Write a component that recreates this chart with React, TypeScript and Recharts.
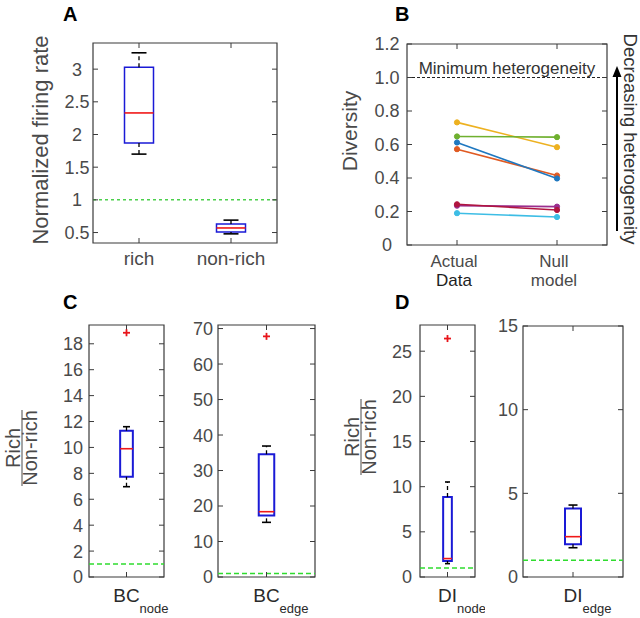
import React from 'react';
import {
  ComposedChart,
  LineChart,
  Line,
  XAxis,
  YAxis,
  ReferenceLine,
  ReferenceArea,
  Scatter,
} from 'recharts';

const FONT = '"Liberation Sans", Arial, Helvetica, sans-serif';
const TICK_COLOR = '#4a4a4a';
const AXIS_COLOR = '#3a3a3a';

// ---------- Panel A ----------
const aCategories = ['rich', 'non-rich'];
// [lower whisker, q1, median, q3, upper whisker]
const aRichBox = [1.7, 1.87, 2.33, 3.03, 3.25];
const aNonRichBox = [0.48, 0.51, 0.57, 0.63, 0.69];
const aTicks = [0.5, 1, 1.5, 2, 2.5, 3];

// ---------- Panel B ----------
const bCategories = ['Actual|Data', 'Null|model'];
const bTicks = [0, 0.2, 0.4, 0.6, 0.8, 1.0, 1.2];
const bYellow = [0.732, 0.584];
const bGreen = [0.648, 0.644];
const bBlue = [0.612, 0.397];
const bOrange = [0.572, 0.415];
const bPurple = [0.235, 0.229];
const bCrimson = [0.243, 0.209];
const bCyan = [0.19, 0.167];

// ---------- Panel C ----------
const cNodeCategories = ['BC|node'];
const cNodeBox = [6.97, 7.74, 9.9, 11.29, 11.6];
const cNodeOutliers = [18.85];
const cNodeTicks = [0, 2, 4, 6, 8, 10, 12, 14, 16, 18];
const cEdgeCategories = ['BC|edge'];
const cEdgeBox = [15.4, 17.3, 18.4, 34.6, 36.9];
const cEdgeOutliers = [67.8];
const cEdgeTicks = [0, 10, 20, 30, 40, 50, 60, 70];

// ---------- Panel D ----------
const dNodeCategories = ['DI|node'];
const dNodeBox = [1.48, 1.77, 2.04, 8.86, 10.52];
const dNodeOutliers = [26.4];
const dNodeTicks = [0, 5, 10, 15, 20, 25];
const dEdgeCategories = ['DI|edge'];
const dEdgeBox = [1.75, 1.95, 2.41, 4.1, 4.3];
const dEdgeOutliers: number[] = [];
const dEdgeTicks = [0, 5, 10, 15];

const unityLevel = 1;

const EmptyTick = () => <g />;

const makeYTick =
  (mode: 'right' | 'center', gap: number, fontSize: number, fmt: (v: number) => string) =>
  (props: any) => {
    const { x, y, payload } = props;
    return (
      <text
        x={x - gap}
        y={y}
        dy={fontSize * 0.36}
        textAnchor={mode === 'center' ? 'middle' : 'end'}
        fill={TICK_COLOR}
        fontSize={fontSize}
        fontFamily={FONT}
      >
        {fmt(payload.value)}
      </text>
    );
  };

const makeSimpleXTick = (cats: string[], fontSize: number, dy: number) => (props: any) => {
  const { x, y, payload } = props;
  const label = cats[Math.round(payload.value) - 1] ?? '';
  return (
    <text x={x} y={y + dy} textAnchor="middle" fill={TICK_COLOR} fontSize={fontSize} fontFamily={FONT}>
      {label}
    </text>
  );
};

const makeSubXTick = (cats: string[], mainHalf: number) => (props: any) => {
  const { x, y, payload } = props;
  const [main, sub] = (cats[Math.round(payload.value) - 1] ?? '|').split('|');
  return (
    <g>
      <text x={x} y={y + 25} textAnchor="middle" fill="#2a2a2a" fontSize={19} fontFamily={FONT}>
        {main}
      </text>
      <text x={x + mainHalf} y={y + 36} textAnchor="start" fill="#2a2a2a" fontSize={13} fontFamily={FONT}>
        {sub}
      </text>
    </g>
  );
};

const PlusShape = (props: any) => {
  const { cx, cy } = props;
  if (cx == null || cy == null) return <g />;
  return (
    <g>
      <line x1={cx - 3.5} x2={cx + 3.5} y1={cy} y2={cy} stroke="#e8151b" strokeWidth={1.8} />
      <line x1={cx} x2={cx} y1={cy - 3.5} y2={cy + 3.5} stroke="#e8151b" strokeWidth={1.8} />
    </g>
  );
};

function frameAxes(n: number, domain: [number, number], yTicks: number[]) {
  const xTicks = Array.from({ length: n }, (_, i) => i + 1);
  return [
    <XAxis
      key="xt"
      xAxisId="top"
      orientation="top"
      dataKey="x"
      type="number"
      domain={[0.5, n + 0.5]}
      allowDataOverflow
      ticks={xTicks}
      height={1}
      tickSize={-5}
      tick={EmptyTick}
      axisLine={false}
      stroke={AXIS_COLOR}
      interval={0}
    />,
    <YAxis
      key="yr"
      yAxisId="right"
      orientation="right"
      type="number"
      domain={domain}
      allowDataOverflow
      ticks={yTicks}
      width={1}
      tickSize={-5}
      tick={EmptyTick}
      axisLine={false}
      stroke={AXIS_COLOR}
      interval={0}
    />,
    <ReferenceArea
      key="frame"
      x1={0.5}
      x2={n + 0.5}
      y1={domain[0]}
      y2={domain[1]}
      fill="none"
      fillOpacity={0}
      stroke={AXIS_COLOR}
      strokeWidth={1.2}
      ifOverflow="visible"
    />,
  ];
}

interface BoxPanelProps {
  left: number;
  top: number;
  w: number;
  h: number;
  domain: [number, number];
  ticks: number[];
  categories: string[];
  boxes: number[][];
  outliers: number[][];
  boxPx: number;
  capPx: number;
  boxStroke: number;
  yTick: (p: any) => any;
  xTick: (p: any) => any;
  refDash: string;
  refColor: string;
}

function BoxPanel(p: BoxPanelProps) {
  const LM = 80;
  const RM = 10;
  const TM = 10;
  const BM = 50;
  const n = p.categories.length;
  const unitsPerPx = n / p.w;
  const hw = (p.boxPx / 2) * unitsPerPx;
  const cw = (p.capPx / 2) * unitsPerPx;
  const xTicks = p.categories.map((_, i) => i + 1);
  const outlierData = p.outliers.flatMap((arr, i) => arr.map((v) => ({ x: i + 1, y: v })));

  const elems: any[] = [];
  p.boxes.forEach((b, i) => {
    const x = i + 1;
    const [lo, q1, med, q3, hi] = b;
    elems.push(
      <ReferenceLine key={`wu${i}`} segment={[{ x, y: q3 }, { x, y: hi }]} stroke="#000" strokeWidth={1.3} strokeDasharray="4 3" ifOverflow="visible" />,
      <ReferenceLine key={`wl${i}`} segment={[{ x, y: lo }, { x, y: q1 }]} stroke="#000" strokeWidth={1.3} strokeDasharray="4 3" ifOverflow="visible" />,
      <ReferenceLine key={`cu${i}`} segment={[{ x: x - cw, y: hi }, { x: x + cw, y: hi }]} stroke="#000" strokeWidth={1.6} ifOverflow="visible" />,
      <ReferenceLine key={`cl${i}`} segment={[{ x: x - cw, y: lo }, { x: x + cw, y: lo }]} stroke="#000" strokeWidth={1.6} ifOverflow="visible" />,
      <ReferenceArea key={`bx${i}`} x1={x - hw} x2={x + hw} y1={q1} y2={q3} fill="#ffffff" fillOpacity={0} stroke="#1a1ad6" strokeWidth={p.boxStroke} ifOverflow="visible" />,
      <ReferenceLine key={`md${i}`} segment={[{ x: x - hw, y: med }, { x: x + hw, y: med }]} stroke="#f01818" strokeWidth={1.6} ifOverflow="visible" />
    );
  });

  return (
    <div style={{ position: 'absolute', left: p.left - LM, top: p.top - TM }}>
      <ComposedChart
        width={p.w + LM + RM}
        height={p.h + TM + BM}
        margin={{ top: TM - 1, right: RM - 1, bottom: 0, left: 0 }}
      >
        <XAxis
          xAxisId={0}
          dataKey="x"
          type="number"
          domain={[0.5, n + 0.5]}
          allowDataOverflow
          ticks={xTicks}
          height={BM}
          tickSize={-5}
          tickMargin={5}
          tick={p.xTick}
          axisLine={false}
          stroke={AXIS_COLOR}
          interval={0}
        />
        <YAxis
          yAxisId={0}
          type="number"
          domain={p.domain}
          allowDataOverflow
          ticks={p.ticks}
          width={LM}
          tickSize={-5}
          tickMargin={5}
          tick={p.yTick}
          axisLine={false}
          stroke={AXIS_COLOR}
          interval={0}
        />
        {frameAxes(n, p.domain, p.ticks)}
        <ReferenceLine y={unityLevel} stroke={p.refColor} strokeWidth={1.5} strokeDasharray={p.refDash} ifOverflow="visible" />
        {elems}
        <Scatter data={outlierData} dataKey="y" shape={PlusShape} isAnimationActive={false} />
      </ComposedChart>
    </div>
  );
}

const bSeries = [
  { key: 'yellow', color: '#EDB120', values: bYellow },
  { key: 'green', color: '#6FB02F', values: bGreen },
  { key: 'orange', color: '#E05A22', values: bOrange },
  { key: 'blue', color: '#1F78C0', values: bBlue },
  { key: 'purple', color: '#9A2E8E', values: bPurple },
  { key: 'crimson', color: '#B0153F', values: bCrimson },
  { key: 'cyan', color: '#3DBDE5', values: bCyan },
];

const bData = bCategories.map((c, i) => {
  const row: any = { x: i + 1, name: c };
  bSeries.forEach((s) => {
    row[s.key] = s.values[i];
  });
  return row;
});

const BXTick = (props: any) => {
  const { x, y, payload } = props;
  const [l1, l2] = (bCategories[Math.round(payload.value) - 1] ?? '|').split('|');
  return (
    <g>
      <text x={x - 3} y={y + 22} textAnchor="middle" fill={TICK_COLOR} fontSize={17} fontFamily={FONT}>
        {l1}
      </text>
      <text x={x - 3} y={y + 41} textAnchor="middle" fill={l2 === 'Data' ? '#1e1e1e' : TICK_COLOR} fontSize={17} fontFamily={FONT}>
        {l2}
      </text>
    </g>
  );
};

function PanelB() {
  const LM = 80;
  const RM = 10;
  const TM = 10;
  const BM = 50;
  const left = 407;
  const top = 44;
  const w = 200;
  const h = 201;
  const domain: [number, number] = [0, 1.2];
  return (
    <div style={{ position: 'absolute', left: left - LM, top: top - TM }}>
      <LineChart width={w + LM + RM} height={h + TM + BM} data={bData} margin={{ top: TM - 1, right: RM - 1, bottom: 0, left: 0 }}>
        <XAxis
          xAxisId={0}
          dataKey="x"
          type="number"
          domain={[0.5, 2.5]}
          allowDataOverflow
          ticks={[1, 2]}
          height={BM}
          tickSize={-5}
          tickMargin={5}
          tick={BXTick}
          axisLine={false}
          stroke={AXIS_COLOR}
          interval={0}
        />
        <YAxis
          yAxisId={0}
          type="number"
          domain={domain}
          allowDataOverflow
          ticks={bTicks}
          width={LM}
          tickSize={-5}
          tickMargin={5}
          tick={makeYTick('center', 20, 18, (v) => (v === 0 ? '0' : v.toFixed(1)))}
          axisLine={false}
          stroke={AXIS_COLOR}
          interval={0}
        />
        {frameAxes(2, domain, bTicks)}
        <ReferenceLine
          y={unityLevel}
          stroke="#222"
          strokeWidth={1.2}
          strokeDasharray="3 2"
          label={{ value: 'Minimum heterogeneity', position: 'top', offset: 4, fill: '#333', fontSize: 17, fontFamily: FONT }}
        />
        {bSeries.map((s) => (
          <Line
            key={s.key}
            dataKey={s.key}
            type="linear"
            stroke={s.color}
            strokeWidth={1.6}
            dot={{ r: 2.6, fill: s.color, stroke: s.color, strokeWidth: 1 }}
            isAnimationActive={false}
          />
        ))}
      </LineChart>
    </div>
  );
}

export default function App() {
  const aFmt = (v: number) => String(v);
  const intFmt = (v: number) => String(v);
  return (
    <div style={{ position: 'absolute', left: 0, top: 0, width: 640, height: 618, background: '#fff', overflow: 'hidden', fontFamily: FONT }}>
      <BoxPanel
        left={93}
        top={43}
        w={184}
        h={200}
        domain={[0.34, 3.4]}
        ticks={aTicks}
        categories={aCategories}
        boxes={[aRichBox, aNonRichBox]}
        outliers={[[], []]}
        boxPx={29}
        capPx={15}
        boxStroke={1.5}
        yTick={makeYTick('center', 16, 18, aFmt)}
        xTick={makeSimpleXTick(aCategories, 19, 22)}
        refDash="3 3"
        refColor="#4cd04c"
      />
      <PanelB />
      <BoxPanel
        left={89}
        top={325}
        w={75}
        h={252}
        domain={[0, 19.45]}
        ticks={cNodeTicks}
        categories={cNodeCategories}
        boxes={[cNodeBox]}
        outliers={[cNodeOutliers]}
        boxPx={12.7}
        capPx={7}
        boxStroke={2}
        yTick={makeYTick('right', 6, 18, intFmt)}
        xTick={makeSubXTick(cNodeCategories, 13)}
        refDash="5 3"
        refColor="#2fdc2f"
      />
      <BoxPanel
        left={218}
        top={325}
        w={97}
        h={252}
        domain={[0, 71]}
        ticks={cEdgeTicks}
        categories={cEdgeCategories}
        boxes={[cEdgeBox]}
        outliers={[cEdgeOutliers]}
        boxPx={15.5}
        capPx={9}
        boxStroke={2}
        yTick={makeYTick('right', 5, 18, intFmt)}
        xTick={makeSubXTick(cEdgeCategories, 13)}
        refDash="5 3"
        refColor="#2fdc2f"
      />
      <BoxPanel
        left={420}
        top={325}
        w={55}
        h={252}
        domain={[0, 27.9]}
        ticks={dNodeTicks}
        categories={dNodeCategories}
        boxes={[dNodeBox]}
        outliers={[dNodeOutliers]}
        boxPx={8.7}
        capPx={5}
        boxStroke={2}
        yTick={makeYTick('right', 8, 18, intFmt)}
        xTick={makeSubXTick(dNodeCategories, 9.5)}
        refDash="5 3"
        refColor="#2fdc2f"
      />
      <BoxPanel
        left={523}
        top={326}
        w={100}
        h={251}
        domain={[0, 15]}
        ticks={dEdgeTicks}
        categories={dEdgeCategories}
        boxes={[dEdgeBox]}
        outliers={[dEdgeOutliers]}
        boxPx={16}
        capPx={9}
        boxStroke={2}
        yTick={makeYTick('right', 5, 18, intFmt)}
        xTick={makeSubXTick(dEdgeCategories, 9.5)}
        refDash="5 3"
        refColor="#2fdc2f"
      />
      <svg
        width={640}
        height={618}
        style={{ position: 'absolute', left: 0, top: 0, pointerEvents: 'none' }}
      >
        <g fontFamily={FONT} fontWeight="bold" fontSize={20} fill="#000">
          <text x={63} y={21}>A</text>
          <text x={395} y={21}>B</text>
          <text x={63} y={309}>C</text>
          <text x={395} y={309}>D</text>
        </g>
        <text transform="translate(48,140) rotate(-90)" textAnchor="middle" fontSize={22} fontFamily={FONT} fill={TICK_COLOR}>
          Normalized firing rate
        </text>
        <text transform="translate(357,131) rotate(-90)" textAnchor="middle" fontSize={21} fontFamily={FONT} fill={TICK_COLOR}>
          Diversity
        </text>
        <g transform="translate(21,448) rotate(-90)" fontFamily={FONT} fontSize={20} fill={TICK_COLOR}>
          <text x={0} y={-1} textAnchor="middle">Rich</text>
          <line x1={-38} x2={38} y1={1} y2={1} stroke={TICK_COLOR} strokeWidth={1} />
          <text x={0} y={16} textAnchor="middle">Non-rich</text>
        </g>
        <g transform="translate(360,437) rotate(-90)" fontFamily={FONT} fontSize={20} fill={TICK_COLOR}>
          <text x={0} y={-1} textAnchor="middle">Rich</text>
          <line x1={-38} x2={38} y1={1} y2={1} stroke={TICK_COLOR} strokeWidth={1} />
          <text x={0} y={16} textAnchor="middle">Non-rich</text>
        </g>
        <line x1={617} x2={617} y1={231} y2={74} stroke="#000" strokeWidth={2} />
        <polygon points="617,66 612.5,77 621.5,77" fill="#000" />
        <text transform="translate(624,139) rotate(90)" textAnchor="middle" fontSize={18.5} fontFamily={FONT} fill="#333">
          Decreasing heterogeneity
        </text>
      </svg>
    </div>
  );
}
